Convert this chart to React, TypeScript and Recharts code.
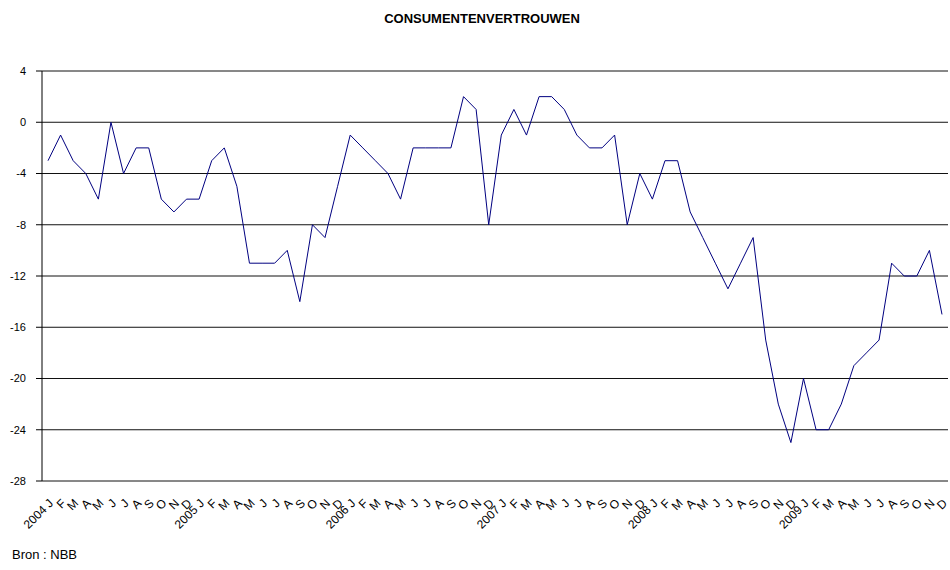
import { LineChart, Line, XAxis, YAxis, CartesianGrid } from "recharts";

// consumentenvertrouwen, maandelijks 2004-2009 (bron NBB)
const years = ["2004", "2005", "2006", "2007", "2008", "2009"];
const months = ["J", "F", "M", "A", "M", "J", "J", "A", "S", "O", "N", "D"];

const v2004 = [-3, -1, -3, -4, -6, 0, -4, -2, -2, -6, -7, -6];
const v2005 = [-6, -3, -2, -5, -11, -11, -11, -10, -14, -8, -9, -5];
const v2006 = [-1, -2, -3, -4, -6, -2, -2, -2, -2, 2, 1, -8];
const v2007 = [-1, 1, -1, 2, 2, 1, -1, -2, -2, -1, -8, -4];
const v2008 = [-6, -3, -3, -7, -9, -11, -13, -11, -9, -17, -22, -25];
const v2009 = [-20, -24, -24, -22, -19, -18, -17, -11, -12, -12, -10, -15];

const yTicks = [4, 0, -4, -8, -12, -16, -20, -24, -28];

const values = [v2004, v2005, v2006, v2007, v2008, v2009];
const data = values.flatMap((vals, y) =>
  vals.map((v, m) => ({
    i: y * 12 + m,
    label: m === 0 ? `${years[y]} ${months[m]}` : months[m],
    score: v,
  }))
);

const FONT = "'Liberation Sans', Arial, sans-serif";

function MonthTick(props: any) {
  const { x, y, payload } = props;
  const d = data[payload.value];
  const ax = x + 6;
  const ay = y + 15;
  return (
    <text
      x={ax}
      y={ay}
      transform={`rotate(-45 ${ax} ${ay})`}
      textAnchor="end"
      fontSize={12}
      fontFamily={FONT}
      fill="#000"
    >
      {d ? d.label : ""}
    </text>
  );
}

export default function App() {
  return (
    <div style={{ position: "absolute", left: 0, top: 0, width: 950, height: 570, background: "#fff" }}>
      <div
        style={{
          position: "absolute",
          top: 11,
          left: 0,
          width: 964,
          textAlign: "center",
          fontFamily: FONT,
          fontWeight: "bold",
          fontSize: 13,
        }}
      >
        CONSUMENTENVERTROUWEN
      </div>
      <LineChart
        width={950}
        height={570}
        data={data}
        margin={{ top: 71, right: 2, left: 0, bottom: 29 }}
      >
        <CartesianGrid vertical={false} stroke="#111" />
        <XAxis
          dataKey="i"
          type="category"
          interval={0}
          height={60}
          padding={{ left: 6, right: 6 }}
          tick={<MonthTick />}
          tickLine={false}
          axisLine={{ stroke: "#888" }}
        />
        <YAxis
          domain={[-28, 4]}
          ticks={yTicks}
          width={42}
          interval={0}
          tickSize={6}
          tickMargin={10}
          tickLine={{ stroke: "#000" }}
          axisLine={{ stroke: "#000" }}
          tick={{ fontSize: 11, fill: "#000", fontFamily: FONT }}
        />
        <Line
          type="linear"
          dataKey="score"
          stroke="#000080"
          strokeWidth={1}
          dot={false}
          isAnimationActive={false}
        />
      </LineChart>
      <div
        style={{
          position: "absolute",
          left: 12,
          top: 547,
          fontFamily: FONT,
          fontSize: 13,
        }}
      >
        Bron : NBB
      </div>
    </div>
  );
}
